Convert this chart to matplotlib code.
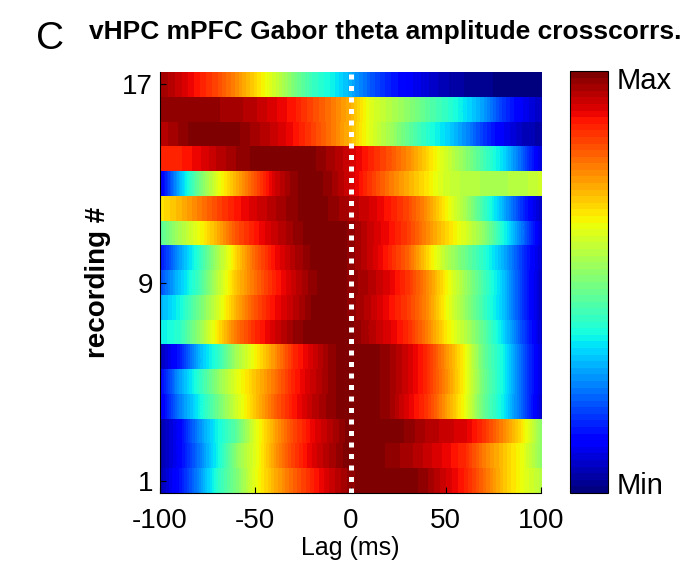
import numpy as np
import matplotlib
matplotlib.use('Agg')
import matplotlib.pyplot as plt

plt.rcParams['font.family'] = ['Liberation Sans', 'DejaVu Sans']

# lag axis (ms), one sample every 10 ms
lags = [-100, -90, -80, -70, -60, -50, -40, -30, -20, -10, 0,
        10, 20, 30, 40, 50, 60, 70, 80, 90, 100]

# normalised crosscorrelation per recording (row 1 = bottom)
crosscorr = [
    [0.05, 0.14, 0.26, 0.40, 0.50, 0.63, 0.72, 0.80, 0.87, 0.93, 0.98, 1.00, 1.00, 1.00, 0.97, 0.92, 0.87, 0.79, 0.70, 0.63, 0.57],
    [0.04, 0.12, 0.24, 0.37, 0.52, 0.62, 0.74, 0.84, 0.91, 0.96, 1.00, 1.00, 0.98, 0.96, 0.93, 0.90, 0.86, 0.77, 0.70, 0.63, 0.52],
    [0.04, 0.12, 0.26, 0.37, 0.46, 0.62, 0.73, 0.83, 0.90, 0.95, 1.00, 1.00, 1.00, 0.98, 0.95, 0.93, 0.91, 0.85, 0.76, 0.66, 0.52],
    [0.10, 0.25, 0.36, 0.48, 0.60, 0.70, 0.80, 0.88, 0.94, 0.98, 1.00, 1.00, 0.97, 0.91, 0.85, 0.74, 0.63, 0.47, 0.36, 0.22, 0.07],
    [0.12, 0.28, 0.40, 0.52, 0.62, 0.70, 0.78, 0.87, 0.93, 0.98, 1.00, 1.00, 0.97, 0.92, 0.86, 0.76, 0.64, 0.48, 0.37, 0.22, 0.08],
    [0.05, 0.15, 0.30, 0.40, 0.55, 0.65, 0.75, 0.86, 0.92, 0.98, 1.00, 1.00, 0.97, 0.92, 0.86, 0.75, 0.64, 0.47, 0.37, 0.22, 0.08],
    [0.36, 0.40, 0.52, 0.66, 0.78, 0.86, 0.92, 0.97, 1.00, 1.00, 0.99, 0.95, 0.91, 0.86, 0.77, 0.66, 0.57, 0.46, 0.34, 0.20, 0.07],
    [0.30, 0.37, 0.48, 0.60, 0.72, 0.82, 0.89, 0.94, 0.99, 1.00, 0.98, 0.94, 0.89, 0.84, 0.76, 0.64, 0.53, 0.42, 0.32, 0.18, 0.06],
    [0.20, 0.32, 0.42, 0.57, 0.70, 0.79, 0.87, 0.93, 0.98, 1.00, 0.98, 0.95, 0.91, 0.85, 0.76, 0.65, 0.54, 0.43, 0.32, 0.18, 0.06],
    [0.14, 0.28, 0.40, 0.55, 0.68, 0.80, 0.89, 0.95, 0.99, 1.00, 0.98, 0.93, 0.87, 0.80, 0.68, 0.57, 0.48, 0.40, 0.30, 0.18, 0.07],
    [0.45, 0.55, 0.63, 0.72, 0.82, 0.88, 0.93, 0.97, 1.00, 1.00, 0.98, 0.93, 0.89, 0.84, 0.76, 0.68, 0.61, 0.52, 0.38, 0.24, 0.08],
    [0.66, 0.71, 0.77, 0.83, 0.88, 0.92, 0.95, 0.98, 1.00, 0.98, 0.95, 0.92, 0.88, 0.83, 0.75, 0.65, 0.55, 0.42, 0.30, 0.17, 0.06],
    [0.10, 0.30, 0.48, 0.62, 0.72, 0.82, 0.92, 0.98, 1.00, 0.97, 0.92, 0.85, 0.78, 0.72, 0.66, 0.60, 0.57, 0.56, 0.56, 0.57, 0.60],
    [0.86, 0.87, 0.90, 0.94, 0.97, 0.99, 1.00, 1.00, 0.99, 0.96, 0.92, 0.87, 0.82, 0.76, 0.68, 0.60, 0.52, 0.43, 0.34, 0.22, 0.08],
    [0.94, 0.97, 1.00, 1.00, 0.99, 0.96, 0.93, 0.89, 0.84, 0.78, 0.71, 0.62, 0.55, 0.47, 0.40, 0.34, 0.27, 0.18, 0.11, 0.06, 0.04],
    [0.98, 0.98, 0.98, 0.97, 0.96, 0.94, 0.91, 0.88, 0.83, 0.78, 0.72, 0.62, 0.57, 0.52, 0.46, 0.41, 0.35, 0.28, 0.18, 0.11, 0.06],
    [0.97, 0.93, 0.88, 0.83, 0.76, 0.68, 0.60, 0.50, 0.42, 0.37, 0.30, 0.22, 0.16, 0.12, 0.08, 0.05, 0.03, 0.02, 0.01, 0.01, 0.00],
]
yticks = [1, 9, 17]
xticks = [-100, -50, 0, 50, 100]

data = np.array(crosscorr)
n_rec = data.shape[0]
step = lags[1] - lags[0]
cmap = plt.get_cmap('jet', 64)

fig = plt.figure(figsize=(6.87, 5.65), dpi=100)
ax = fig.add_axes([0.2329, 0.1274, 0.5546, 0.745])

# one image per recording so rows keep sharp edges, smooth along lag
for i in range(n_rec):
    im = ax.imshow(data[i:i + 1], cmap=cmap, vmin=0, vmax=1, aspect='auto',
                   origin='lower', interpolation='bilinear', interpolation_stage='data',
                   extent=(lags[0] - step / 2, lags[-1] + step / 2, i + 0.5, i + 1.5))
ax.set_xlim(lags[0], lags[-1])
ax.set_ylim(0.5, n_rec + 0.5)

ax.axvline(0, color='white', lw=3.6, linestyle=(0, (1, 1.3)), dash_capstyle='butt')

ax.set_xticks(xticks)
ax.set_xticklabels([str(t) for t in xticks])
ax.set_yticks(yticks)
ax.tick_params(direction='in', length=4, labelsize=20, width=0.8)
ax.tick_params(axis='x', pad=11)
ax.tick_params(axis='y', pad=5)
for s in ['top', 'right']:
    ax.spines[s].set_visible(False)
ax.set_xlabel('Lag (ms)', fontsize=18, labelpad=1)
fig.text(0.142, 0.5, 'recording #', rotation=90, fontsize=20, fontweight='bold',
         ha='center', va='center')

cax = fig.add_axes([0.829, 0.1274, 0.0553, 0.747])
cb = fig.colorbar(im, cax=cax)
cb.set_ticks([])
cb.outline.set_linewidth(0.8)
fig.text(0.897, 0.857, 'Max', fontsize=21, ha='left', va='center')
fig.text(0.897, 0.140, 'Min', fontsize=21, ha='left', va='center')

fig.text(0.073, 0.931, 'C', fontsize=28, ha='center', va='center')
fig.text(0.129, 0.931, 'vHPC mPFC Gabor theta amplitude crosscorrs.', fontsize=19,
         fontweight='bold', ha='left', va='baseline')

fig.savefig('out.png', dpi=100)
